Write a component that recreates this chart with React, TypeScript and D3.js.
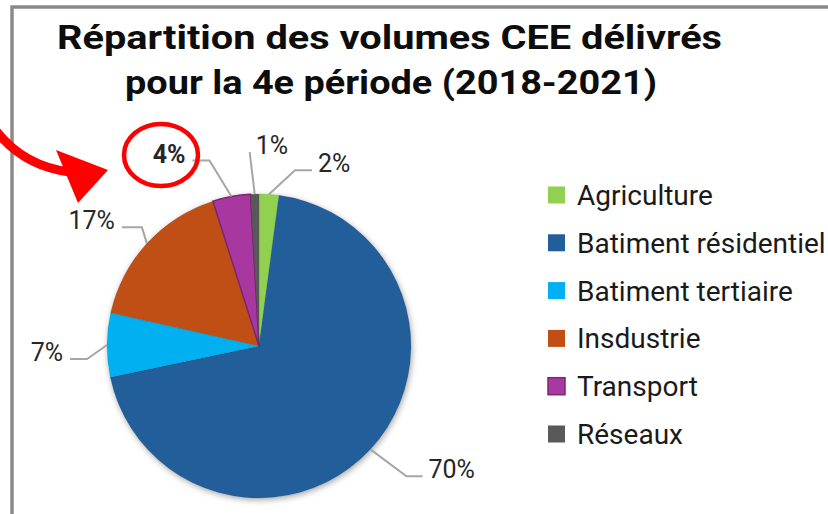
import React from "react";
import * as d3 from "d3";

const titleLines = ["Répartition des volumes CEE délivrés", "pour la 4e période (2018-2021)"];
const categories = ["Agriculture", "Batiment résidentiel", "Batiment tertiaire", "Insdustrie", "Transport", "Réseaux"];
const values = [2.1, 69.6, 6.8, 16.6, 4.0, 0.9];
const colors = ["#92D050", "#215F9A", "#00B0F0", "#C04F15", "#A8399F", "#595959"];
const strokes = ["none", "none", "none", "none", "#7C2474", "none"];
// leader-line layout per slice: elbow offset from slice edge, horizontal run (signed), bold flag
const leaderLayout = [
  { dx: 26, dy: -24, run: 17, bold: false },
  { dx: 36, dy: 27, run: 16, bold: false },
  { dx: -20, dy: 14, run: -17, bold: false },
  { dx: -5, dy: -16, run: -20, bold: false },
  { dx: -22, dy: -36, run: -17, bold: true },
  { dx: -5, dy: -42, run: 0, bold: false },
];

const W = 828;
const H = 514;
const cx = 259;
const cy = 346;
const R = 152;

export default function App() {
  const pie = d3.pie<number>().sort(null).value((d) => d).startAngle(0).endAngle(2 * Math.PI);
  const arcs = pie(values);
  const arcGen = d3.arc<d3.PieArcDatum<number>>().innerRadius(0).outerRadius(R);
  const legendY = d3.scalePoint<string>().domain(categories).range([195, 434]);

  return (
    <svg width={W} height={H} style={{ position: "absolute", left: 0, top: 0, background: "#fff" }}>
      <defs>
        <filter id="shadow" x="-20%" y="-20%" width="140%" height="140%">
          <feDropShadow dx="1" dy="2" stdDeviation="3" floodColor="#000" floodOpacity="0.35" />
        </filter>
      </defs>
      <rect x={0} y={0} width={W} height={H} fill="#fff" />
      {/* frame */}
      <path d={`M12,${H + 5} L12,7 L${W + 5},7`} fill="none" stroke="#8a8a8a" strokeWidth={3.5} />

      {/* title */}
      {titleLines.map((t, i) => (
        <text
          key={i}
          x={i === 0 ? 389.5 : 391}
          y={i === 0 ? 49 : 94}
          textAnchor="middle"
          fontFamily="Roboto, 'Open Sans', sans-serif"
          fontWeight={700}
          fontSize={33}
          fill="#0d0d0d"
          textLength={i === 0 ? 665 : 532}
          lengthAdjust="spacingAndGlyphs"
        >
          {t}
        </text>
      ))}

      {/* pie */}
      <g transform={`translate(${cx},${cy})`} filter="url(#shadow)">
        {arcs.map((a, i) => (
          <path
            key={i}
            d={arcGen(a) || ""}
            fill={colors[i]}
            stroke={strokes[i] === "none" ? "rgba(0,0,0,0.12)" : strokes[i]}
            strokeWidth={strokes[i] === "none" ? 0.6 : 1.5}
          />
        ))}
      </g>

      {/* leader lines and labels */}
      {arcs.map((a, i) => {
        const mid = (a.startAngle + a.endAngle) / 2;
        const ex = cx + R * Math.sin(mid);
        const ey = cy - R * Math.cos(mid);
        const L = leaderLayout[i];
        const bx = ex + L.dx;
        const by = ey + L.dy;
        const tx = bx + L.run;
        const right = L.run >= 0;
        const label = `${Math.round(values[i])}%`;
        return (
          <g key={i}>
            <polyline points={`${ex},${ey} ${bx},${by} ${tx},${by}`} fill="none" stroke="#a6a6a6" strokeWidth={2} />
            <text
              x={right ? tx + 6 : tx - 7}
              y={by + 2}
              textAnchor={right ? "start" : "end"}
              fontFamily="Roboto, sans-serif"
              fontSize={25}
              fontWeight={L.bold ? 700 : 400}
              fill="#262626"
            >
              {label}
            </text>
          </g>
        );
      })}

      {/* legend */}
      {categories.map((c, i) => {
        const y = legendY(c) || 0;
        return (
          <g key={c}>
            <rect
              x={548}
              y={y - 8.5}
              width={17}
              height={17}
              fill={colors[i]}
              stroke={strokes[i] === "none" ? "none" : strokes[i]}
              strokeWidth={1.5}
            />
            <text x={577} y={y + 10} fontFamily="Roboto, sans-serif" fontSize={28} fill="#1a1a1a">
              {c}
            </text>
          </g>
        );
      })}

      {/* red annotation */}
      <ellipse cx={161} cy={155} rx={37} ry={31} fill="none" stroke="#ff0000" strokeWidth={4.5} />
      <path d="M-6,128 Q22,166 70,172" fill="none" stroke="#ff0000" strokeWidth={9} />
      <polygon points="56,150 108,170 78,203" fill="#ff0000" />
    </svg>
  );
}
